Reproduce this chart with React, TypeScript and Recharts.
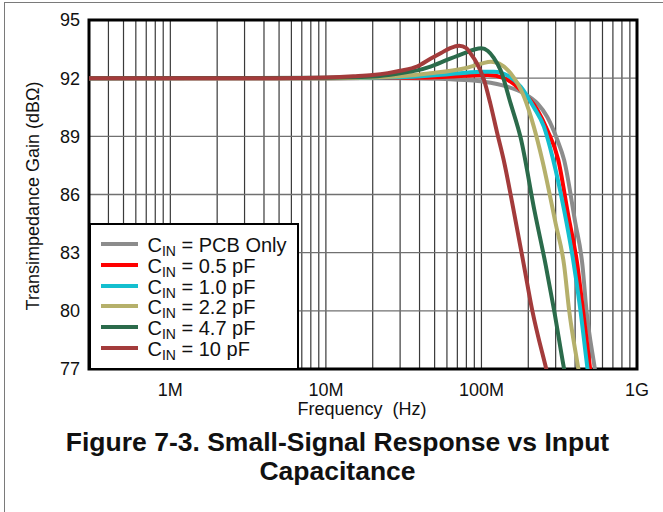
import React from 'react';
import { LineChart, Line, XAxis, YAxis, CartesianGrid, ReferenceArea } from 'recharts';

const FONT = '"Liberation Sans", Arial, Helvetica, sans-serif';

// x grid ticks (Hz), log decades 300k..1G
const xGridTicks = [
  4e5, 5e5, 6e5, 7e5, 8e5, 9e5,
  1e6, 2e6, 3e6, 4e6, 5e6, 6e6, 7e6, 8e6, 9e6,
  1e7, 2e7, 3e7, 4e7, 5e7, 6e7, 7e7, 8e7, 9e7,
  1e8, 2e8, 3e8, 4e8, 5e8, 6e8, 7e8, 8e8, 9e8,
  1e9,
];
const xLabelValues = [1e6, 1e7, 1e8, 1e9];
const xLabelTexts = ['1M', '10M', '100M', '1G'];
const yTicks = [77, 80, 83, 86, 89, 92, 95];

// [frequency Hz, gain dBΩ]
const pcbOnly: [number, number][] = [
  [3e5, 92], [1e6, 92], [1e7, 92], [3e7, 91.99], [5e7, 91.97], [6.3e7, 91.95], [8e7, 91.9],
  [1.03e8, 91.82], [1.47e8, 91.56], [1.87e8, 91.22], [2.29e8, 90.7], [2.65e8, 90.0],
  [3.08e8, 88.8], [3.4e8, 87.78], [4e8, 84.6], [4.46e8, 82.35], [4.73e8, 80.04],
  [5.36e8, 77.0], [5.7e8, 75.5],
];
const c05: [number, number][] = [
  [3e5, 92], [1e7, 92], [3e7, 92.02], [5e7, 92.05], [8e7, 92.12], [1.1e8, 92.16],
  [1.4e8, 92.0], [1.78e8, 91.4], [2.29e8, 90.36], [2.65e8, 89.33], [3.12e8, 87.78],
  [3.6e8, 85.0], [4.14e8, 82.35], [4.5e8, 80.0], [5.0e8, 77.0], [5.3e8, 75.5],
];
const c10: [number, number][] = [
  [3e5, 92], [1e7, 92], [3e7, 92.05], [5e7, 92.15], [8e7, 92.28], [1.0e8, 92.33],
  [1.2e8, 92.33], [1.5e8, 92.1], [1.79e8, 91.56], [2.17e8, 90.5], [2.52e8, 89.5],
  [2.87e8, 87.9], [3.4e8, 85.2], [3.89e8, 82.6], [4.3e8, 80.2], [4.81e8, 77.0], [5.1e8, 75.5],
];
const c22: [number, number][] = [
  [3e5, 92], [1e7, 92], [2e7, 92.03], [3e7, 92.1], [4.7e7, 92.25], [7.7e7, 92.5],
  [1.0e8, 92.75], [1.15e8, 92.85], [1.3e8, 92.75], [1.54e8, 92.25], [1.875e8, 91.05],
  [2.17e8, 89.5], [2.46e8, 87.78], [3.0e8, 84.5], [3.4e8, 82.35], [3.66e8, 80.04],
  [4.2e8, 77.0], [4.5e8, 75.5],
];
const c47: [number, number][] = [
  [3e5, 92], [1e7, 92.02], [2e7, 92.08], [3e7, 92.25], [3.85e7, 92.4], [4.7e7, 92.6],
  [6e7, 92.94], [7.7e7, 93.28], [9e7, 93.48], [1.0e8, 93.54], [1.1e8, 93.4], [1.2e8, 93.05],
  [1.33e8, 92.4], [1.54e8, 90.7], [1.79e8, 88.9], [2.2e8, 85.1], [2.59e8, 82.35],
  [2.93e8, 80.04], [3.4e8, 77.0], [3.7e8, 75.5],
];
const c100: [number, number][] = [
  [3e5, 92], [5e6, 92], [1e7, 92.04], [1.5e7, 92.1], [2e7, 92.16], [2.5e7, 92.26],
  [3e7, 92.38], [3.85e7, 92.6], [4.7e7, 93.0], [5.5e7, 93.3], [6.3e7, 93.55], [7.2e7, 93.67],
  [8e7, 93.55], [8.5e7, 93.28], [9.3e7, 92.8], [1.03e8, 92.0], [1.14e8, 90.7], [1.26e8, 89.2],
  [1.39e8, 87.78], [1.6e8, 85.3], [1.875e8, 82.35], [2.12e8, 80.04], [2.61e8, 77.0], [2.8e8, 76.0],
];

const seriesNames = ['PCB Only', '0.5 pF', '1.0 pF', '2.2 pF', '4.7 pF', '10 pF'];
const seriesColors = ['#8c8c8c', '#ff0000', '#14bfcf', '#b5b06b', '#2b6b4b', '#a33b3b'];
const seriesData = [pcbOnly, c05, c10, c22, c47, c100];

const toRows = (arr: [number, number][]) => arr.map(([f, g]) => ({ f, g }));

const xFmt = (v: number) => {
  const i = xLabelValues.findIndex((d) => Math.abs(d - v) / d < 1e-6);
  return i >= 0 ? xLabelTexts[i] : '';
};

export default function App() {
  return (
    <div
      style={{
        position: 'absolute',
        left: 0,
        top: 0,
        width: 663,
        height: 512,
        overflow: 'hidden',
        background: '#fff',
        fontFamily: FONT,
        color: '#111',
      }}
    >
      <div
        style={{
          position: 'absolute',
          left: 4,
          top: 2,
          width: 700,
          height: 600,
          borderLeft: '1.5px solid #7a7a7a',
          borderTop: '1.5px solid #7a7a7a',
        }}
      />
      <div style={{ position: 'absolute', left: 0, top: 0 }}>
        <LineChart width={663} height={512} margin={{ top: 20, right: 26, bottom: 113, left: 29 }}>
          <CartesianGrid horizontal={false} stroke="#3a3a3a" strokeWidth={1.2} />
          <CartesianGrid vertical={false} stroke="#707070" strokeWidth={1.4} />
          <XAxis
            dataKey="f"
            type="number"
            scale="log"
            domain={[3e5, 1e9]}
            allowDataOverflow
            ticks={xGridTicks}
            interval={0}
            tickFormatter={xFmt}
            tickLine={false}
            axisLine={false}
            tickMargin={8}
            height={30}
            tick={{ fill: '#111', fontSize: 18, fontFamily: FONT }}
          />
          <YAxis
            dataKey="g"
            type="number"
            domain={[77, 95]}
            allowDataOverflow
            ticks={yTicks}
            interval={0}
            tickLine={false}
            axisLine={false}
            tickMargin={3}
            width={60}
            tick={{ fill: '#111', fontSize: 18, fontFamily: FONT, dy: '0.44em' }}
          />
          {seriesData.map((d, i) => (
            <Line
              key={seriesNames[i]}
              data={toRows(d)}
              dataKey="g"
              type="monotone"
              stroke={seriesColors[i]}
              strokeWidth={4}
              dot={false}
              isAnimationActive={false}
            />
          ))}
          <ReferenceArea
            x1={3e5}
            x2={1e9}
            y1={77}
            y2={95}
            fill="none"
            fillOpacity={0}
            stroke="#000"
            strokeWidth={3}
            ifOverflow="visible"
          />
        </LineChart>
      </div>

      {/* Legend */}
      <div
        style={{
          position: 'absolute',
          left: 89,
          top: 223,
          width: 210,
          height: 147,
          boxSizing: 'border-box',
          border: '2.5px solid #000',
          background: '#fff',
        }}
      >
        {seriesNames.map((n, i) => (
          <div key={n} style={{ position: 'absolute', left: 0, top: 9 + i * 20.8, height: 20, width: 205 }}>
            <div
              style={{
                position: 'absolute',
                left: 9.5,
                top: 8,
                width: 37,
                height: 4,
                background: seriesColors[i],
              }}
            />
            <div
              style={{
                position: 'absolute',
                left: 56.5,
                top: 1,
                fontSize: 20,
                lineHeight: '20px',
                whiteSpace: 'nowrap',
              }}
            >
              C<span style={{ fontSize: 14, position: 'relative', top: 4 }}>IN</span> = {n}
            </div>
          </div>
        ))}
      </div>

      {/* Y axis label */}
      <div
        style={{
          position: 'absolute',
          left: 33,
          top: 196,
          transform: 'translate(-50%, -50%) rotate(-90deg)',
          whiteSpace: 'nowrap',
          fontSize: 18,
          lineHeight: '18px',
        }}
      >
        Transimpedance Gain (dBΩ)
      </div>

      {/* X axis label */}
      <div
        style={{
          position: 'absolute',
          left: 362,
          top: 400,
          transform: 'translateX(-50%)',
          whiteSpace: 'pre',
          fontSize: 18,
          lineHeight: '18px',
        }}
      >
        {'Frequency  (Hz)'}
      </div>

      {/* Title */}
      <div
        style={{
          position: 'absolute',
          left: 337.5,
          top: 428,
          transform: 'translateX(-50%)',
          whiteSpace: 'nowrap',
          fontSize: 26.5,
          lineHeight: '29px',
          fontWeight: 'bold',
          textAlign: 'center',
          color: '#111',
        }}
      >
        Figure 7-3. Small-Signal Response vs Input
        <br />
        Capacitance
      </div>
    </div>
  );
}
